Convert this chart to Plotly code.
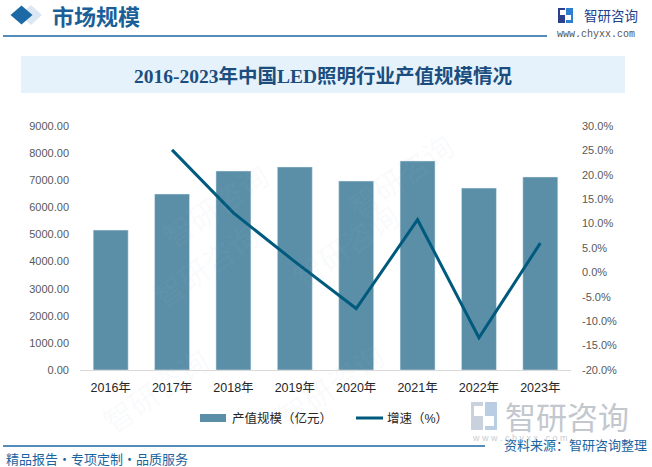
import plotly.graph_objects as go

# ---------------- data ----------------
years = ["2016年", "2017年", "2018年", "2019年", "2020年", "2021年", "2022年", "2023年"]
output_value = [5160, 6490, 7340, 7490, 6970, 7710, 6710, 7120]      # 产值规模（亿元）
growth_rate = [None, 25.1, 12.2, 2.2, -7.4, 10.8, -13.4, 6.0]        # 增速（%）
left_tickvals = [0, 1000, 2000, 3000, 4000, 5000, 6000, 7000, 8000, 9000]
left_ticktext = [f"{v:.2f}" for v in left_tickvals]
right_tickvals = [-20, -15, -10, -5, 0, 5, 10, 15, 20, 25, 30]
right_ticktext = [f"{v:.1f}%" for v in right_tickvals]
bar_name = "产值规模（亿元）"
line_name = "增速（%）"
title_text = "2016-2023年中国LED照明行业产值规模情况"

# ---------------- layout geometry ----------------
W, H = 652, 467
L, R, T, B = 80, 81, 126, 97
PW, PH = W - L - R, H - T - B

def px(x):
    return (x - L) / PW

def py(y):
    return (H - B - y) / PH

BAR_COLOR = "#5b8fa8"
LINE_COLOR = "#005a7d"
BLUE = "#1b64a0"
CJK = "Arial, 'Liberation Sans', 'Noto Sans CJK SC', sans-serif"

fig = go.Figure()
fig.add_trace(go.Bar(x=years, y=output_value, name=bar_name, marker_color=BAR_COLOR,
                     width=0.57, yaxis="y", showlegend=False))
fig.add_trace(go.Scatter(x=years, y=growth_rate, name=line_name, mode="lines",
                         line=dict(color=LINE_COLOR, width=3), yaxis="y2",
                         showlegend=False))

shapes = []
annotations = []

# header diamond (with light shadow)
def diamond(cx, cy, hw, hh, color):
    x0, x1 = px(cx - hw), px(cx + hw)
    xc = px(cx)
    y0, y1 = py(cy - hh), py(cy + hh)
    yc = py(cy)
    return dict(type="path", xref="paper", yref="paper",
                path=f"M {x0} {yc} L {xc} {y0} L {x1} {yc} L {xc} {y1} Z",
                fillcolor=color, line=dict(width=0), layer="above")

shapes.append(diamond(31, 15, 11, 10, "#dbe8f3"))
shapes.append(diamond(21.5, 15, 11, 9.5, "#1b6aa5"))

annotations.append(dict(x=px(50), y=py(15), xref="paper", yref="paper", xanchor="left",
                        yanchor="middle", text="<b>市场规模</b>", showarrow=False,
                        font=dict(size=22, color="#1b5f98", family="'Noto Sans CJK SC'")))

# header line
shapes.append(dict(type="line", xref="paper", yref="paper", x0=px(3), x1=px(547),
                   y0=py(36), y1=py(36), line=dict(color=BLUE, width=1.5)))

# logo top right
shapes.append(dict(type="rect", xref="paper", yref="paper", x0=px(558), x1=px(565),
                   y0=py(23), y1=py(8), fillcolor="#2b3f8c", line=dict(width=0)))
shapes.append(dict(type="rect", xref="paper", yref="paper", x0=px(560), x1=px(565),
                   y0=py(15), y1=py(10), fillcolor="white", line=dict(width=0)))
shapes.append(dict(type="rect", xref="paper", yref="paper", x0=px(566), x1=px(573),
                   y0=py(23), y1=py(8), fillcolor="#2f7fd0", line=dict(width=0)))
shapes.append(dict(type="rect", xref="paper", yref="paper", x0=px(566), x1=px(571),
                   y0=py(20), y1=py(15), fillcolor="white", line=dict(width=0)))
annotations.append(dict(x=px(582), y=py(15), xref="paper", yref="paper", xanchor="left",
                        yanchor="middle", text="智研咨询", showarrow=False,
                        font=dict(size=13.5, color="#24408a", family="'Noto Sans CJK SC'")))
annotations.append(dict(x=px(596), y=py(34), xref="paper", yref="paper", xanchor="center",
                        yanchor="middle", text="www.chyxx.com", showarrow=False,
                        font=dict(size=10, color="#555555", family="'Liberation Mono', monospace")))

# title band
shapes.append(dict(type="rect", xref="paper", yref="paper", x0=px(21), x1=px(625),
                   y0=py(93), y1=py(56), fillcolor="#e6f2fb", line=dict(width=0),
                   layer="below"))
annotations.append(dict(x=px(323), y=py(76), xref="paper", yref="paper", xanchor="center",
                        yanchor="middle", text=f"<b>{title_text}</b>", showarrow=False,
                        font=dict(size=19.5, color="#1b4e7e",
                                  family="'Liberation Serif', 'Noto Sans CJK SC', serif")))

# faint diagonal watermarks
for wx, wy in [(150, 150), (400, 120), (140, 320), (410, 300), (90, 445), (330, 440)]:
    annotations.append(dict(x=px(wx), y=py(wy), xref="paper", yref="paper",
                            text="智研咨询", showarrow=False, textangle=-35,
                            font=dict(size=30, color="rgba(170,185,200,0.07)",
                                      family="'Noto Sans CJK SC'")))

# custom legend
shapes.append(dict(type="rect", xref="paper", yref="paper", x0=px(200), x1=px(226),
                   y0=py(422), y1=py(414), fillcolor=BAR_COLOR, line=dict(width=0)))
annotations.append(dict(x=px(230), y=py(418), xref="paper", yref="paper", xanchor="left",
                        yanchor="middle", text=bar_name, showarrow=False,
                        font=dict(size=12.5, color="#262626", family=CJK)))
shapes.append(dict(type="line", xref="paper", yref="paper", x0=px(356), x1=px(383),
                   y0=py(418), y1=py(418), line=dict(color=LINE_COLOR, width=3)))
annotations.append(dict(x=px(385), y=py(418), xref="paper", yref="paper", xanchor="left",
                        yanchor="middle", text=line_name, showarrow=False,
                        font=dict(size=12.5, color="#262626", family=CJK)))

# bottom-right big watermark logo
shapes.append(dict(type="rect", xref="paper", yref="paper", x0=px(471), x1=px(483),
                   y0=py(430), y1=py(402), fillcolor="#c9d1dc", line=dict(width=0)))
shapes.append(dict(type="rect", xref="paper", yref="paper", x0=px(474), x1=px(483),
                   y0=py(416), y1=py(406), fillcolor="white", line=dict(width=0)))
shapes.append(dict(type="rect", xref="paper", yref="paper", x0=px(485), x1=px(497),
                   y0=py(430), y1=py(402), fillcolor="#b9cde3", line=dict(width=0)))
shapes.append(dict(type="rect", xref="paper", yref="paper", x0=px(485), x1=px(494),
                   y0=py(426), y1=py(416), fillcolor="white", line=dict(width=0)))
annotations.append(dict(x=px(503), y=py(415), xref="paper", yref="paper", xanchor="left",
                        yanchor="middle", text="智研咨询", showarrow=False,
                        font=dict(size=31, color="#c3c7ce", family="'Noto Sans CJK SC'")))
annotations.append(dict(x=px(470), y=py(438), xref="paper", yref="paper", xanchor="left",
                        yanchor="middle", text="w w w . c h y x x . c o m", showarrow=False,
                        font=dict(size=9, color="#c8ccd2", family="'Liberation Sans'")))

# footer
shapes.append(dict(type="line", xref="paper", yref="paper", x0=px(3), x1=px(485),
                   y0=py(446), y1=py(446), line=dict(color=BLUE, width=1.5)))
annotations.append(dict(x=px(649), y=py(444), xref="paper", yref="paper", xanchor="right",
                        yanchor="middle", text="资料来源：智研咨询整理", showarrow=False,
                        font=dict(size=13, color=BLUE, family="'Noto Sans CJK SC'")))
annotations.append(dict(x=px(4), y=py(458), xref="paper", yref="paper", xanchor="left",
                        yanchor="middle", text="精品报告・专项定制・品质服务", showarrow=False,
                        font=dict(size=13, color=BLUE, family="'Noto Sans CJK SC'")))

fig.update_layout(
    width=W, height=H,
    margin=dict(l=L, r=R, t=T, b=B, pad=0),
    paper_bgcolor="white", plot_bgcolor="rgba(0,0,0,0)",
    showlegend=False,
    shapes=shapes, annotations=annotations,
    xaxis=dict(showline=True, linecolor="#d9d9d9", linewidth=1, showgrid=False,
               ticks="", tickfont=dict(size=12.5, color="#262626", family=CJK),
               ticklabelstandoff=6),
    yaxis=dict(range=[0, 9000], tickvals=left_tickvals, ticktext=left_ticktext,
               showgrid=False, zeroline=False, showline=False, ticks="",
               tickfont=dict(size=11, color="#595959", family=CJK),
               ticklabelstandoff=10),
    yaxis2=dict(range=[-20, 30], tickvals=right_tickvals, ticktext=right_ticktext,
                overlaying="y", side="right", showgrid=False, zeroline=False,
                showline=False, ticks="",
                tickfont=dict(size=11, color="#595959", family=CJK),
                ticklabelstandoff=10),
)

fig.write_html("out.html", config={"displayModeBar": False},
               post_script="document.body.style.margin='0';document.body.style.padding='0';")
